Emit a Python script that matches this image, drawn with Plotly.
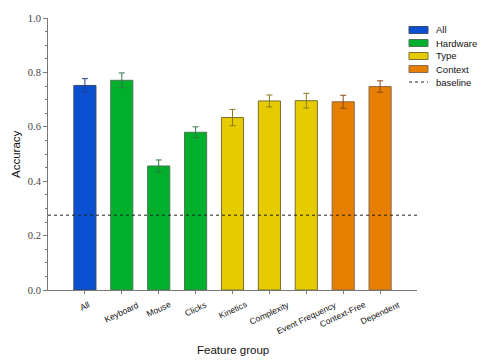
import plotly.graph_objects as go

categories = ["All", "Keyboard", "Mouse", "Clicks", "Kinetics", "Complexity",
              "Event Frequency", "Context-Free", "Dependent"]
accuracy = [0.752, 0.771, 0.456, 0.580, 0.634, 0.695, 0.696, 0.692, 0.748]
errors = [0.025, 0.027, 0.022, 0.020, 0.030, 0.022, 0.027, 0.024, 0.021]
groups = ["All", "Hardware", "Hardware", "Hardware", "Type", "Type", "Type",
          "Context", "Context"]
group_names = ["All", "Hardware", "Type", "Context"]
baseline = 0.275

fill_colors = {"All": "#0a50d0", "Hardware": "#00b02c", "Type": "#e6cb00", "Context": "#e67e00"}
edge_colors = {"All": "#3a4a6a", "Hardware": "#4a7a52", "Type": "#7a6e2a", "Context": "#8a6a50"}
err_colors = {"All": "#1f3f8a", "Hardware": "#2f7a45", "Type": "#8a7a1a", "Context": "#8a4a1a"}

W, H = 485, 363
L, R, T, B = 48, 68, 18, 73
pw, ph = W - L - R, H - T - B
SANS = "Liberation Sans, Arial, sans-serif"


def px_x(x):
    return (x - L) / pw


def px_y(y):
    return (H - B - y) / ph


fig = go.Figure()
for g in group_names:
    idx = [i for i, gg in enumerate(groups) if gg == g]
    fig.add_trace(go.Bar(
        x=idx, y=[accuracy[i] for i in idx], name=g, width=0.6,
        marker=dict(color=fill_colors[g], line=dict(color=edge_colors[g], width=1)),
        error_y=dict(type="data", array=[errors[i] for i in idx], color=err_colors[g],
                     thickness=1, width=3),
        hoverinfo="skip",
    ))

x_range = [-1, len(categories)]
fig.add_trace(go.Scatter(
    x=x_range, y=[baseline, baseline], mode="lines", name="baseline",
    line=dict(color="#222222", width=1, dash="dot"), hoverinfo="skip",
))

# custom legend
legend_names = group_names + ["baseline"]
shapes, annotations = [], []
for k, name in enumerate(legend_names):
    yc = 30 + 13 * k
    if name in fill_colors:
        shapes.append(dict(type="rect", xref="paper", yref="paper",
                           x0=px_x(409), x1=px_x(428), y0=px_y(yc + 3.5), y1=px_y(yc - 3.5),
                           fillcolor=fill_colors[name],
                           line=dict(color=edge_colors[name], width=1)))
    else:
        shapes.append(dict(type="line", xref="paper", yref="paper",
                           x0=px_x(409), x1=px_x(428), y0=px_y(yc), y1=px_y(yc),
                           line=dict(color="#222222", width=1, dash="dot")))
    annotations.append(dict(text=name, xref="paper", yref="paper", x=px_x(434), y=px_y(yc),
                            xanchor="left", yanchor="middle", showarrow=False,
                            font=dict(size=9.5, family=SANS, color="#111111")))

# x tick labels, centred under ticks and rotated
for i, cat in enumerate(categories):
    annotations.append(dict(text=cat, xref="x", yref="paper", x=i, y=px_y(298),
                            xanchor="center", yanchor="top", showarrow=False,
                            textangle=-25, borderpad=0,
                            font=dict(size=8.5, family=SANS, color="#111111")))

# axis titles
annotations.append(dict(text="Feature group", xref="paper", yref="paper", x=0.5, y=px_y(350),
                        xanchor="center", yanchor="middle", showarrow=False,
                        font=dict(size=11.5, family=SANS, color="#111111")))
annotations.append(dict(text="Accuracy", xref="paper", yref="paper", x=px_x(16), y=0.5,
                        xanchor="center", yanchor="middle", showarrow=False, textangle=-90,
                        font=dict(size=11.5, family=SANS, color="#111111")))

fig.update_layout(
    width=W, height=H,
    margin=dict(l=L, r=R, t=T, b=B, autoexpand=False),
    paper_bgcolor="white", plot_bgcolor="white",
    barmode="overlay",
    font=dict(family=SANS, color="#111111"),
    showlegend=False,
    shapes=shapes, annotations=annotations,
)
fig.update_xaxes(
    range=x_range, tickmode="array", tickvals=list(range(len(categories))),
    showticklabels=False,
    showline=True, linecolor="#777777", linewidth=1,
    ticks="outside", ticklen=3, tickcolor="#777777",
    showgrid=False, zeroline=False,
)
fig.update_yaxes(
    range=[0, 1], dtick=0.2, tickformat=".1f",
    tickfont=dict(size=10.5, family="Liberation Serif, DejaVu Serif, serif", color="#444444"),
    showline=True, linecolor="#777777", linewidth=1,
    ticks="outside", ticklen=4, tickcolor="#777777",
    minor=dict(dtick=0.05, ticks="outside", ticklen=2, tickcolor="#777777"),
    showgrid=False, zeroline=False,
)

fig.write_html("out.html", config={"displayModeBar": False},
               post_script="document.body.style.margin='0';document.body.style.overflow='hidden';")
